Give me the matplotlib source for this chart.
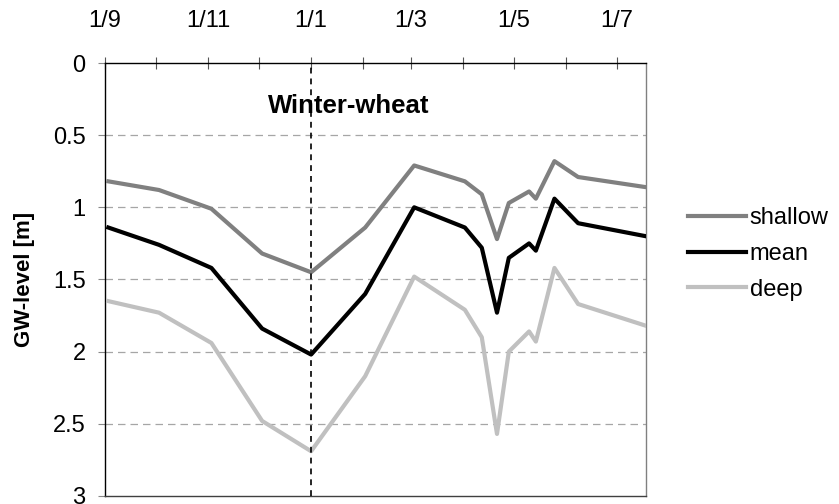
import matplotlib
matplotlib.use("Agg")
import matplotlib.pyplot as plt
import pandas as pd

plt.rcParams['font.family'] = ['Liberation Sans', 'DejaVu Sans']

dates = ['2006-09-03', '2006-10-03', '2006-11-03', '2006-12-03', '2007-01-01',
         '2007-02-02', '2007-03-03', '2007-04-02', '2007-04-12', '2007-04-21',
         '2007-04-28', '2007-05-10', '2007-05-14', '2007-05-25', '2007-06-08',
         '2007-07-18']
shallow = [0.82, 0.88, 1.01, 1.32, 1.45, 1.14, 0.71, 0.82, 0.91, 1.22,
           0.97, 0.89, 0.94, 0.68, 0.79, 0.86]
mean = [1.14, 1.26, 1.42, 1.84, 2.02, 1.60, 1.00, 1.14, 1.28, 1.73,
        1.35, 1.25, 1.30, 0.94, 1.11, 1.20]
deep = [1.65, 1.73, 1.94, 2.48, 2.69, 2.17, 1.48, 1.71, 1.90, 2.57,
        2.00, 1.86, 1.93, 1.42, 1.67, 1.82]

major_ticks = ['2006-09-01', '2006-11-01', '2007-01-01', '2007-03-01',
               '2007-05-01', '2007-07-01']
major_labels = ['1/9', '1/11', '1/1', '1/3', '1/5', '1/7']
minor_ticks = ['2006-10-01', '2006-12-01', '2007-02-01', '2007-04-01',
               '2007-06-01']
y_ticks = [0, 0.5, 1, 1.5, 2, 2.5, 3]
y_labels = ['0', '0.5', '1', '1.5', '2', '2.5', '3']
sowing_line = '2007-01-01'
x_start = '2006-09-01'

x = pd.to_datetime(dates)

fig = plt.figure(figsize=(8.39, 5.04), dpi=100)
ax = fig.add_axes([0.1251, 0.0159, 0.6445, 0.8591])

ax.plot(x, shallow, color='#808080', lw=3.0, label='shallow', solid_joinstyle='round', zorder=3)
ax.plot(x, mean, color='#000000', lw=3.0, label='mean', solid_joinstyle='round', zorder=4)
ax.plot(x, deep, color='#c0c0c0', lw=3.0, label='deep', solid_joinstyle='round', zorder=3)

ax.axvline(pd.to_datetime(sowing_line), color='black', lw=1.2, ls=(0, (3.5, 3)), zorder=5)

ax.set_xlim(pd.to_datetime(x_start), x[-1])
ax.set_ylim(3, 0)

for yv in y_ticks[1:-1]:
    ax.axhline(yv, color='#a6a6a6', lw=0.9, ls=(0, (6, 4)), zorder=1)

ax.xaxis.tick_top()
ax.set_xticks(pd.to_datetime(major_ticks))
ax.set_xticklabels(major_labels)
ax.set_xticks(pd.to_datetime(minor_ticks), minor=True)
ax.tick_params(axis='x', which='both', direction='inout', length=9, width=0.8,
               color='#555555', top=True, bottom=False, pad=18, labelsize=17)
ax.set_yticks(y_ticks)
ax.set_yticklabels(y_labels)
ax.tick_params(axis='y', which='both', direction='out', length=5, width=0.8,
               color='#888888', pad=9, labelsize=17)

ax.spines['left'].set_color('black')
ax.spines['top'].set_color('black')
ax.spines['right'].set_color('#808080')
ax.spines['bottom'].set_color('#404040')
for s in ax.spines.values():
    s.set_linewidth(1.0)

ax.set_ylabel('GW-level [m]', fontsize=16, fontweight='bold', labelpad=13)

ax.text(pd.to_datetime('2007-01-23'), 0.30, 'Winter-wheat', fontsize=18.5,
        fontweight='bold', ha='center', va='center')

leg = ax.legend(loc='center left', bbox_to_anchor=(0.820, 0.496),
                bbox_transform=fig.transFigure, frameon=False,
                fontsize=17, handlelength=2.45, handletextpad=0.16,
                labelspacing=0.58, borderaxespad=0, borderpad=0)

fig.savefig('out.png', dpi=100)
